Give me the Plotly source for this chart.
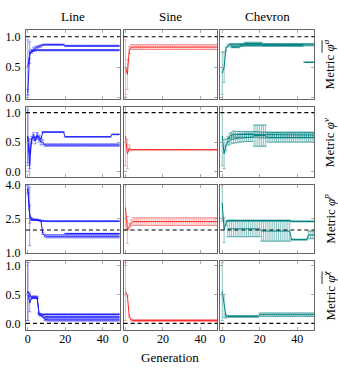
import plotly.graph_objects as go

GEN = [0, 1, 2, 3, 4, 5, 6, 7, 8, 9, 10, 11, 12, 13, 14, 15, 16, 17, 18, 19,
       20, 21, 22, 23, 24, 25, 26, 27, 28, 29, 30, 31, 32, 33, 34, 35, 36, 37, 38, 39,
       40, 41, 42, 43, 44, 45, 46, 47, 48, 49]

COLUMNS = ["Line", "Sine", "Chevron"]
ROW_LABELS = [
    "Metric <i>φ</i><sup><i>a</i></sup>",
    "Metric <i>φ</i><sup><i>v</i></sup>",
    "Metric <i>φ</i><sup><i>p</i></sup>",
    "Metric <i>φ</i><sup><i>χ</i></sup>",
]
ROW_OVERLINE = [True, False, False, True]
REF_VALUES = [1.0, 1.0, 2.0, 0.0]
Y_TICKS = [[0.0, 0.5, 1.0], [0.0, 0.5, 1.0], [1.0, 2.5, 4.0], [0.0, 0.5, 1.0]]
Y_TICK_TEXT = [["0.0", "0.5", "1.0"], ["0.0", "0.5", "1.0"], ["1.0", "2.5", "4.0"], ["0.0", "0.5", "1.0"]]
X_TICKS = [0, 20, 40]
N = None

# ---------------- Row 1 : phi^a ----------------
L1A_Y = [0.08, 0.74, 0.76, 0.77, 0.78, 0.78, 0.78, 0.78, 0.78, 0.78,
         0.78, 0.78, 0.78, 0.78, 0.78, 0.78, 0.78, 0.78, 0.78, 0.78,
         0.78, 0.78, 0.78, 0.78, 0.78, 0.78, 0.78, 0.78, 0.78, 0.78,
         0.78, 0.78, 0.78, 0.78, 0.78, 0.78, 0.78, 0.78, 0.78, 0.78,
         0.78, 0.78, 0.78, 0.78, 0.78, 0.78, 0.78, 0.78, 0.78, 0.78]
L1A_E = [0.05, 0.18, 0.02, 0.01, 0.01, 0.01, 0.01, 0.01, 0.01, 0.01,
         0.01, 0.01, 0.01, 0.01, 0.01, 0.01, 0.01, 0.01, 0.01, 0.01,
         0.01, 0.01, 0.01, 0.01, 0.01, 0.01, 0.01, 0.01, 0.01, 0.01,
         0.01, 0.01, 0.01, 0.01, 0.01, 0.01, 0.01, 0.01, 0.01, 0.01,
         0.01, 0.01, 0.01, 0.01, 0.01, 0.01, 0.01, 0.01, 0.01, 0.01]
L1B_Y = [0.50, 0.70, 0.76, 0.79, 0.81, 0.83, 0.84, 0.85, 0.87, 0.87,
         0.87, 0.87, 0.87, 0.87, 0.87, 0.87, 0.87, 0.87, 0.87, 0.87,
         0.85, 0.85, 0.85, 0.85, 0.85, 0.85, 0.85, 0.85, 0.85, 0.85,
         0.85, 0.85, 0.85, 0.85, 0.85, 0.85, 0.85, 0.85, 0.85, 0.85,
         0.85, 0.85, 0.85, 0.85, 0.85, 0.85, 0.85, 0.85, 0.85, 0.85]
L1B_E = [0.45, 0.06, 0.03, 0.03, 0.03, 0.02, 0.02, 0.02, 0.01, 0.01,
         0.01, 0.01, 0.01, 0.01, 0.01, 0.01, 0.01, 0.01, 0.01, 0.01,
         0.01, 0.01, 0.01, 0.01, 0.01, 0.01, 0.01, 0.01, 0.01, 0.01,
         0.01, 0.01, 0.01, 0.01, 0.01, 0.01, 0.01, 0.01, 0.01, 0.01,
         0.01, 0.01, 0.01, 0.01, 0.01, 0.01, 0.01, 0.01, 0.01, 0.01]
S1_Y = [0.50, 0.38, 0.78, 0.83, 0.83, 0.83, 0.83, 0.83, 0.83, 0.83,
        0.83, 0.83, 0.83, 0.83, 0.83, 0.83, 0.83, 0.83, 0.83, 0.83,
        0.83, 0.83, 0.83, 0.83, 0.83, 0.83, 0.83, 0.83, 0.83, 0.83,
        0.83, 0.83, 0.83, 0.83, 0.83, 0.83, 0.83, 0.83, 0.83, 0.83,
        0.83, 0.83, 0.83, 0.83, 0.83, 0.83, 0.83, 0.83, 0.83, 0.83]
S1_E = [0.45, 0.25, 0.06, 0.04, 0.04, 0.04, 0.04, 0.04, 0.04, 0.04,
        0.04, 0.04, 0.04, 0.04, 0.04, 0.04, 0.04, 0.04, 0.04, 0.04,
        0.04, 0.04, 0.04, 0.04, 0.04, 0.04, 0.04, 0.04, 0.04, 0.04,
        0.04, 0.04, 0.04, 0.04, 0.04, 0.04, 0.04, 0.04, 0.04, 0.04,
        0.04, 0.04, 0.04, 0.04, 0.04, 0.04, 0.04, 0.04, 0.04, 0.04]
C1A_Y = [0.40, 0.50, 0.80, 0.85, 0.87, 0.87, 0.87, 0.87, 0.87, 0.87,
         0.87, 0.87, 0.89, 0.89, 0.89, 0.89, 0.89, 0.89, 0.89, 0.89,
         0.89, 0.89, 0.87, 0.87, 0.87, 0.87, 0.87, 0.87, 0.87, 0.87,
         0.87, 0.87, 0.87, 0.87, 0.87, 0.87, 0.87, 0.87, 0.87, 0.87,
         0.87, 0.87, 0.87, 0.87, 0.87, 0.87, 0.87, 0.87, 0.87, 0.87]
C1A_E = [0.35, 0.25, 0.03, 0.02, 0.02, 0.02, 0.02, 0.02, 0.02, 0.02,
         0.02, 0.02, 0.02, 0.02, 0.02, 0.02, 0.02, 0.02, 0.02, 0.02,
         0.02, 0.02, 0.02, 0.02, 0.02, 0.02, 0.02, 0.02, 0.02, 0.02,
         0.02, 0.02, 0.02, 0.02, 0.02, 0.02, 0.02, 0.02, 0.02, 0.02,
         0.02, 0.02, 0.02, 0.02, 0.02, 0.02, 0.02, 0.02, 0.02, 0.02]
C1B_Y = [N, N, N, N, N, 0.83, 0.83, 0.83, 0.83, 0.83,
         0.86, 0.86, 0.86, 0.86, 0.86, 0.86, 0.86, 0.86, 0.86, 0.86,
         0.86, 0.86, 0.86, 0.86, 0.86, 0.86, 0.86, 0.86, 0.86, 0.86,
         0.86, 0.86, 0.86, 0.86, 0.86, 0.86, 0.86, 0.86, 0.86, 0.86,
         0.86, 0.86, 0.86, 0.86, N, N, N, N, N, N]
C1B_E = [0, 0, 0, 0, 0, 0.01, 0.01, 0.01, 0.01, 0.01,
         0.015, 0.015, 0.015, 0.015, 0.015, 0.015, 0.015, 0.015, 0.015, 0.015,
         0.015, 0.015, 0.015, 0.015, 0.015, 0.015, 0.015, 0.015, 0.015, 0.015,
         0.015, 0.015, 0.015, 0.015, 0.015, 0.015, 0.015, 0.015, 0.015, 0.015,
         0.015, 0.015, 0.015, 0.015, 0, 0, 0, 0, 0, 0]
C1C_Y = [N, N, N, N, N, N, N, N, N, N,
         N, N, N, N, N, N, N, N, N, N,
         N, N, N, N, N, N, N, N, N, N,
         N, N, N, N, N, N, N, N, N, N,
         N, N, N, N, 0.58, 0.58, 0.58, 0.58, 0.58, 0.58]
C1C_E = [0, 0, 0, 0, 0, 0, 0, 0, 0, 0,
         0, 0, 0, 0, 0, 0, 0, 0, 0, 0,
         0, 0, 0, 0, 0, 0, 0, 0, 0, 0,
         0, 0, 0, 0, 0, 0, 0, 0, 0, 0,
         0, 0, 0, 0, 0.005, 0.005, 0.005, 0.005, 0.005, 0.005]

# ---------------- Row 2 : phi^v ----------------
L2A_Y = [0.60, 0.10, 0.55, 0.58, 0.52, 0.60, 0.55, 0.50, 0.50, 0.45,
         0.45, 0.45, 0.45, 0.45, 0.45, 0.45, 0.45, 0.45, 0.45, 0.45,
         0.45, 0.45, 0.45, 0.45, 0.45, 0.45, 0.45, 0.45, 0.45, 0.45,
         0.45, 0.45, 0.45, 0.45, 0.45, 0.45, 0.45, 0.45, 0.45, 0.45,
         0.45, 0.45, 0.45, 0.45, 0.45, 0.45, 0.45, 0.45, 0.45, 0.45]
L2A_E = [0.50, 0.25, 0.05, 0.05, 0.05, 0.05, 0.05, 0.05, 0.04, 0.02,
         0.02, 0.02, 0.02, 0.02, 0.02, 0.02, 0.02, 0.02, 0.02, 0.02,
         0.02, 0.02, 0.02, 0.02, 0.02, 0.02, 0.02, 0.02, 0.02, 0.02,
         0.02, 0.02, 0.02, 0.02, 0.02, 0.02, 0.02, 0.02, 0.02, 0.02,
         0.02, 0.02, 0.02, 0.02, 0.02, 0.02, 0.02, 0.02, 0.02, 0.02]
L2B_Y = [0.60, 0.30, 0.52, 0.62, 0.56, 0.62, 0.58, 0.55, 0.67, 0.67,
         0.67, 0.67, 0.67, 0.67, 0.67, 0.67, 0.67, 0.67, 0.67, 0.67,
         0.59, 0.59, 0.59, 0.59, 0.59, 0.59, 0.59, 0.59, 0.59, 0.59,
         0.59, 0.59, 0.59, 0.59, 0.59, 0.59, 0.59, 0.59, 0.59, 0.59,
         0.59, 0.59, 0.59, 0.59, 0.59, 0.63, 0.63, 0.63, 0.63, 0.63]
L2B_E = [0.45, 0.25, 0.04, 0.04, 0.04, 0.04, 0.04, 0.03, 0.01, 0.01,
         0.005, 0.005, 0.005, 0.005, 0.005, 0.005, 0.005, 0.005, 0.005, 0.005,
         0.005, 0.005, 0.005, 0.005, 0.005, 0.005, 0.005, 0.005, 0.005, 0.005,
         0.005, 0.005, 0.005, 0.005, 0.005, 0.005, 0.005, 0.005, 0.005, 0.005,
         0.005, 0.005, 0.005, 0.005, 0.005, 0.005, 0.005, 0.005, 0.005, 0.005]
S2_Y = [0.60, 0.30, 0.40, 0.37, 0.37, 0.37, 0.37, 0.37, 0.37, 0.37,
        0.37, 0.37, 0.37, 0.37, 0.37, 0.37, 0.37, 0.37, 0.37, 0.37,
        0.37, 0.37, 0.37, 0.37, 0.37, 0.37, 0.37, 0.37, 0.37, 0.37,
        0.37, 0.37, 0.37, 0.37, 0.37, 0.37, 0.37, 0.37, 0.37, 0.37,
        0.37, 0.37, 0.37, 0.37, 0.37, 0.37, 0.37, 0.37, 0.37, 0.37]
S2_E = [0.50, 0.25, 0.05, 0.004, 0.004, 0.004, 0.004, 0.004, 0.004, 0.004,
        0.004, 0.004, 0.004, 0.004, 0.004, 0.004, 0.004, 0.004, 0.004, 0.004,
        0.004, 0.004, 0.004, 0.004, 0.004, 0.004, 0.004, 0.004, 0.004, 0.004,
        0.004, 0.004, 0.004, 0.004, 0.004, 0.004, 0.004, 0.004, 0.004, 0.004,
        0.004, 0.004, 0.004, 0.004, 0.004, 0.004, 0.004, 0.004, 0.004, 0.004]
C2A_Y = [0.60, 0.30, 0.45, 0.50, 0.52, 0.55, 0.55, 0.56, 0.56, 0.57,
         0.57, 0.57, 0.58, 0.58, 0.58, 0.58, 0.58, 0.61, 0.61, 0.61,
         0.61, 0.61, 0.61, 0.61, 0.58, 0.58, 0.58, 0.58, 0.58, 0.58,
         0.58, 0.58, 0.58, 0.58, 0.58, 0.58, 0.58, 0.58, 0.58, 0.58,
         0.58, 0.58, 0.58, 0.58, 0.58, 0.58, 0.58, 0.58, 0.58, 0.58]
C2A_E = [0.50, 0.25, 0.10, 0.06, 0.06, 0.07, 0.07, 0.07, 0.07, 0.07,
         0.07, 0.07, 0.07, 0.07, 0.07, 0.07, 0.07, 0.18, 0.18, 0.18,
         0.18, 0.18, 0.18, 0.18, 0.08, 0.08, 0.08, 0.08, 0.08, 0.08,
         0.08, 0.08, 0.08, 0.08, 0.08, 0.08, 0.08, 0.08, 0.08, 0.08,
         0.08, 0.08, 0.08, 0.08, 0.08, 0.08, 0.08, 0.08, 0.08, 0.08]
C2B_Y = [N, N, N, 0.55, 0.60, 0.62, 0.64, 0.63, 0.63, 0.63,
         0.63, 0.63, 0.63, 0.63, 0.63, 0.63, 0.63, 0.63, 0.63, 0.63,
         0.62, 0.62, 0.62, 0.62, 0.62, 0.62, 0.62, 0.62, 0.62, 0.62,
         0.62, 0.62, 0.62, 0.62, 0.62, 0.62, 0.62, 0.62, 0.62, 0.62,
         0.62, 0.62, 0.62, 0.62, 0.62, 0.62, 0.62, 0.62, 0.62, 0.62]
C2B_E = [0, 0, 0, 0.05, 0.05, 0.05, 0.05, 0.05, 0.05, 0.05,
         0.05, 0.05, 0.05, 0.05, 0.05, 0.05, 0.05, 0.05, 0.05, 0.05,
         0.05, 0.05, 0.05, 0.05, 0.05, 0.05, 0.05, 0.05, 0.05, 0.05,
         0.05, 0.05, 0.05, 0.05, 0.05, 0.05, 0.05, 0.05, 0.05, 0.05,
         0.05, 0.05, 0.05, 0.05, 0.05, 0.05, 0.05, 0.05, 0.05, 0.05]

# ---------------- Row 3 : phi^p ----------------
L3A_Y = [3.90, 2.60, 2.45, 2.45, 2.45, 2.45, 2.43, 2.42, 2.40, 2.39,
         2.39, 2.39, 2.39, 2.39, 2.39, 2.39, 2.39, 2.39, 2.39, 2.39,
         2.39, 2.39, 2.39, 2.39, 2.39, 2.39, 2.39, 2.39, 2.39, 2.39,
         2.39, 2.39, 2.39, 2.39, 2.39, 2.39, 2.39, 2.39, 2.39, 2.39,
         2.39, 2.39, 2.39, 2.39, 2.39, 2.39, 2.39, 2.39, 2.39, 2.39]
L3A_E = [0.10, 1.30, 0.03, 0.02, 0.02, 0.02, 0.02, 0.02, 0.02, 0.02,
         0.02, 0.02, 0.02, 0.02, 0.02, 0.02, 0.02, 0.02, 0.02, 0.02,
         0.02, 0.02, 0.02, 0.02, 0.02, 0.02, 0.02, 0.02, 0.02, 0.02,
         0.02, 0.02, 0.02, 0.02, 0.02, 0.02, 0.02, 0.02, 0.02, 0.02,
         0.02, 0.02, 0.02, 0.02, 0.02, 0.02, 0.02, 0.02, 0.02, 0.02]
L3B_Y = [3.80, 2.70, 2.50, 2.46, 2.45, 2.45, 2.43, 2.40, 1.85, 1.75,
         1.72, 1.72, 1.72, 1.72, 1.72, 1.72, 1.72, 1.72, 1.72, 1.72,
         1.72, 1.72, 1.72, 1.72, 1.72, 1.72, 1.72, 1.72, 1.72, 1.72,
         1.72, 1.72, 1.72, 1.72, 1.72, 1.72, 1.72, 1.72, 1.72, 1.72,
         1.72, 1.72, 1.72, 1.72, 1.72, 1.72, 1.72, 1.72, 1.72, 1.72]
L3B_E = [0.15, 0.40, 0.05, 0.03, 0.03, 0.03, 0.03, 0.03, 0.05, 0.06,
         0.07, 0.07, 0.07, 0.07, 0.07, 0.07, 0.07, 0.07, 0.07, 0.07,
         0.07, 0.07, 0.07, 0.07, 0.07, 0.07, 0.07, 0.07, 0.07, 0.07,
         0.07, 0.07, 0.07, 0.07, 0.07, 0.07, 0.07, 0.07, 0.07, 0.07,
         0.07, 0.07, 0.07, 0.07, 0.07, 0.07, 0.07, 0.07, 0.07, 0.07]
L3C_Y = [N, N, N, N, N, N, N, N, N, N,
         N, N, N, N, N, N, N, N, N, N,
         1.84, 1.84, 1.84, 1.84, 1.84, 1.84, 1.84, 1.84, 1.84, 1.84,
         1.84, 1.84, 1.84, 1.84, 1.84, 1.84, 1.84, 1.84, 1.84, 1.84,
         1.84, 1.84, 1.84, 1.84, 1.84, 1.84, 1.84, 1.84, 1.84, 1.84]
L3C_E = [0, 0, 0, 0, 0, 0, 0, 0, 0, 0,
         0, 0, 0, 0, 0, 0, 0, 0, 0, 0,
         0.01, 0.01, 0.01, 0.01, 0.01, 0.01, 0.01, 0.01, 0.01, 0.01,
         0.01, 0.01, 0.01, 0.01, 0.01, 0.01, 0.01, 0.01, 0.01, 0.01,
         0.01, 0.01, 0.01, 0.01, 0.01, 0.01, 0.01, 0.01, 0.01, 0.01]
S3_Y = [3.00, 2.00, 2.15, 2.30, 2.37, 2.37, 2.37, 2.37, 2.37, 2.37,
        2.37, 2.37, 2.37, 2.37, 2.37, 2.37, 2.37, 2.37, 2.37, 2.37,
        2.37, 2.37, 2.37, 2.37, 2.37, 2.37, 2.37, 2.37, 2.37, 2.37,
        2.37, 2.37, 2.37, 2.37, 2.37, 2.37, 2.37, 2.37, 2.37, 2.37,
        2.37, 2.37, 2.37, 2.37, 2.37, 2.37, 2.37, 2.37, 2.37, 2.37]
S3_E = [1.00, 0.60, 0.15, 0.15, 0.17, 0.17, 0.17, 0.17, 0.17, 0.17,
        0.17, 0.17, 0.17, 0.17, 0.17, 0.17, 0.17, 0.17, 0.17, 0.17,
        0.17, 0.17, 0.17, 0.17, 0.17, 0.17, 0.17, 0.17, 0.17, 0.17,
        0.17, 0.17, 0.17, 0.17, 0.17, 0.17, 0.17, 0.17, 0.17, 0.17,
        0.17, 0.17, 0.17, 0.17, 0.17, 0.17, 0.17, 0.17, 0.17, 0.17]
C3A_Y = [3.20, 2.00, 2.30, 2.42, 2.42, 2.42, 2.42, 2.42, 2.42, 2.42,
         2.42, 2.42, 2.42, 2.42, 2.42, 2.42, 2.42, 2.42, 2.42, 2.42,
         2.42, 2.42, 2.42, 2.42, 2.42, 2.42, 2.42, 2.42, 2.42, 2.42,
         2.42, 2.42, 2.42, 2.42, 2.42, 2.42, 2.42, 2.38, 2.38, 2.38,
         2.38, 2.38, 2.38, 2.38, 2.38, 2.38, 2.38, 2.38, 2.38, 2.38]
C3A_E = [0.80, 0.55, 0.10, 0.02, 0.02, 0.02, 0.02, 0.02, 0.02, 0.02,
         0.02, 0.02, 0.02, 0.02, 0.02, 0.02, 0.02, 0.02, 0.02, 0.02,
         0.02, 0.02, 0.02, 0.02, 0.02, 0.02, 0.02, 0.02, 0.02, 0.02,
         0.02, 0.02, 0.02, 0.02, 0.02, 0.02, 0.02, 0.02, 0.02, 0.02,
         0.02, 0.02, 0.02, 0.02, 0.02, 0.02, 0.02, 0.02, 0.02, 0.02]
C3B_Y = [N, N, N, 2.05, 2.05, 2.05, 2.05, 2.05, 2.05, 2.05,
         2.05, 2.05, 2.05, 2.05, 2.05, 2.05, 2.05, 2.05, 2.05, 2.05,
         2.05, 1.95, 1.95, 1.95, 1.95, 1.95, 1.95, 1.95, 1.95, 1.95,
         1.95, 1.95, 1.95, 1.95, 1.95, 1.95, 1.95, 1.57, 1.57, 1.57,
         1.57, 1.57, 1.57, 1.57, 1.57, 1.57, 1.78, 1.78, 1.78, 1.78]
C3B_E = [0, 0, 0, 0.35, 0.35, 0.35, 0.35, 0.35, 0.35, 0.35,
         0.35, 0.35, 0.35, 0.35, 0.35, 0.35, 0.35, 0.35, 0.35, 0.35,
         0.35, 0.45, 0.45, 0.45, 0.45, 0.45, 0.45, 0.45, 0.45, 0.45,
         0.45, 0.45, 0.45, 0.45, 0.45, 0.45, 0.45, 0.02, 0.02, 0.02,
         0.02, 0.02, 0.02, 0.02, 0.02, 0.02, 0.17, 0.17, 0.17, 0.17]

# ---------------- Row 4 : phi^chi ----------------
L4A_Y = [0.55, 0.50, 0.45, 0.45, 0.45, 0.45, 0.15, 0.14, 0.12, 0.07,
         0.06, 0.06, 0.06, 0.06, 0.06, 0.06, 0.06, 0.06, 0.06, 0.06,
         0.06, 0.06, 0.06, 0.06, 0.06, 0.06, 0.06, 0.06, 0.06, 0.06,
         0.06, 0.06, 0.06, 0.06, 0.06, 0.06, 0.06, 0.06, 0.06, 0.06,
         0.06, 0.06, 0.06, 0.06, 0.06, 0.06, 0.06, 0.06, 0.06, 0.06]
L4A_E = [0.50, 0.04, 0.02, 0.02, 0.02, 0.02, 0.02, 0.02, 0.02, 0.02,
         0.02, 0.02, 0.02, 0.02, 0.02, 0.02, 0.02, 0.02, 0.02, 0.02,
         0.02, 0.02, 0.02, 0.02, 0.02, 0.02, 0.02, 0.02, 0.02, 0.02,
         0.02, 0.02, 0.02, 0.02, 0.02, 0.02, 0.02, 0.02, 0.02, 0.02,
         0.02, 0.02, 0.02, 0.02, 0.02, 0.02, 0.02, 0.02, 0.02, 0.02]
L4B_Y = [0.55, 0.35, 0.44, 0.45, 0.45, 0.44, 0.17, 0.16, 0.15, 0.155,
         0.155, 0.155, 0.155, 0.155, 0.155, 0.155, 0.155, 0.155, 0.155, 0.155,
         0.155, 0.155, 0.155, 0.155, 0.155, 0.155, 0.155, 0.155, 0.155, 0.155,
         0.155, 0.155, 0.155, 0.155, 0.155, 0.155, 0.155, 0.155, 0.155, 0.155,
         0.155, 0.155, 0.155, 0.155, 0.155, 0.155, 0.155, 0.155, 0.155, 0.155]
L4B_E = [0.50, 0.15, 0.02, 0.02, 0.02, 0.02, 0.01, 0.01, 0.01, 0.01,
         0.01, 0.01, 0.01, 0.01, 0.01, 0.01, 0.01, 0.01, 0.01, 0.01,
         0.01, 0.01, 0.01, 0.01, 0.01, 0.01, 0.01, 0.01, 0.01, 0.01,
         0.01, 0.01, 0.01, 0.01, 0.01, 0.01, 0.01, 0.01, 0.01, 0.01,
         0.01, 0.01, 0.01, 0.01, 0.01, 0.01, 0.01, 0.01, 0.01, 0.01]
L4C_Y = [N, N, N, N, N, N, N, N, N, 0.11,
         0.11, 0.11, 0.11, 0.11, 0.11, 0.11, 0.11, 0.11, 0.11, 0.11,
         0.11, 0.11, 0.11, 0.11, 0.11, 0.11, 0.11, 0.11, 0.11, 0.11,
         0.11, 0.11, 0.11, 0.11, 0.11, 0.11, 0.11, 0.11, 0.11, 0.11,
         0.11, 0.11, 0.11, 0.11, 0.11, 0.11, 0.11, 0.11, 0.11, 0.11]
L4C_E = [0, 0, 0, 0, 0, 0, 0, 0, 0, 0.01,
         0.01, 0.01, 0.01, 0.01, 0.01, 0.01, 0.01, 0.01, 0.01, 0.01,
         0.01, 0.01, 0.01, 0.01, 0.01, 0.01, 0.01, 0.01, 0.01, 0.01,
         0.01, 0.01, 0.01, 0.01, 0.01, 0.01, 0.01, 0.01, 0.01, 0.01,
         0.01, 0.01, 0.01, 0.01, 0.01, 0.01, 0.01, 0.01, 0.01, 0.01]
S4_Y = [0.55, 0.48, 0.12, 0.06, 0.05, 0.05, 0.05, 0.05, 0.05, 0.05,
        0.05, 0.05, 0.05, 0.05, 0.05, 0.05, 0.05, 0.05, 0.05, 0.05,
        0.05, 0.05, 0.05, 0.05, 0.05, 0.05, 0.05, 0.05, 0.05, 0.05,
        0.05, 0.05, 0.05, 0.05, 0.05, 0.05, 0.05, 0.05, 0.05, 0.05,
        0.05, 0.05, 0.05, 0.05, 0.05, 0.05, 0.05, 0.05, 0.05, 0.05]
S4_E = [0.50, 0.01, 0.02, 0.015, 0.015, 0.015, 0.015, 0.015, 0.015, 0.015,
        0.015, 0.015, 0.015, 0.015, 0.015, 0.015, 0.015, 0.015, 0.015, 0.015,
        0.015, 0.015, 0.015, 0.015, 0.015, 0.015, 0.015, 0.015, 0.015, 0.015,
        0.015, 0.015, 0.015, 0.015, 0.015, 0.015, 0.015, 0.015, 0.015, 0.015,
        0.015, 0.015, 0.015, 0.015, 0.015, 0.015, 0.015, 0.015, 0.015, 0.015]
C4_Y = [0.55, 0.30, 0.12, 0.12, 0.12, 0.12, 0.12, 0.12, 0.12, 0.12,
        0.12, 0.12, 0.12, 0.12, 0.12, 0.12, 0.12, 0.12, 0.12, 0.12,
        0.15, 0.15, 0.15, 0.15, 0.15, 0.15, 0.15, 0.15, 0.15, 0.15,
        0.15, 0.15, 0.15, 0.15, 0.15, 0.15, 0.15, 0.15, 0.15, 0.15,
        0.15, 0.15, 0.15, 0.15, 0.15, 0.15, 0.15, 0.15, 0.15, 0.15]
C4_E = [0.50, 0.20, 0.03, 0.015, 0.015, 0.015, 0.015, 0.015, 0.015, 0.015,
        0.015, 0.015, 0.015, 0.015, 0.015, 0.015, 0.015, 0.015, 0.015, 0.015,
        0.03, 0.03, 0.03, 0.03, 0.03, 0.03, 0.03, 0.03, 0.03, 0.03,
        0.03, 0.03, 0.03, 0.03, 0.03, 0.03, 0.03, 0.03, 0.03, 0.03,
        0.03, 0.03, 0.03, 0.03, 0.03, 0.03, 0.03, 0.03, 0.03, 0.03]

PANELS = [
    [[(L1A_Y, L1A_E), (L1B_Y, L1B_E)], [(S1_Y, S1_E)], [(C1A_Y, C1A_E), (C1B_Y, C1B_E), (C1C_Y, C1C_E)]],
    [[(L2A_Y, L2A_E), (L2B_Y, L2B_E)], [(S2_Y, S2_E)], [(C2A_Y, C2A_E), (C2B_Y, C2B_E)]],
    [[(L3A_Y, L3A_E), (L3B_Y, L3B_E), (L3C_Y, L3C_E)], [(S3_Y, S3_E)], [(C3A_Y, C3A_E), (C3B_Y, C3B_E)]],
    [[(L4A_Y, L4A_E), (L4B_Y, L4B_E), (L4C_Y, L4C_E)], [(S4_Y, S4_E)], [(C4_Y, C4_E)]],
]

# ---------------- styling / layout ----------------
LINE_COLORS = ["rgb(30,30,255)", "rgb(255,40,40)", "rgb(0,130,130)"]
ERR_COLORS = ["rgba(30,30,255,0.55)", "rgba(255,40,40,0.45)", "rgba(0,130,130,0.6)"]
W, H = 338, 374


def px_x(p):
    return p / W


def px_y(p):
    return 1 - p / H


COL_PX = [(25, 119), (123, 217), (220, 314)]
ROW_PX = [(25, 96), (105, 177), (185, 256), (264, 336)]
Y_RANGES = [[-0.02, 1.11], [-0.09, 1.09], [0.97, 4.02], [-0.12, 1.08]]
X_RANGE = [-1, 49]
FONT = "Liberation Serif"
LABEL_X_PX = 329

fig = go.Figure()
layout = dict(
    width=W, height=H, margin=dict(l=0, r=0, t=0, b=0),
    paper_bgcolor="white", plot_bgcolor="white", showlegend=False,
    font=dict(family=FONT, size=12, color="black"),
)
shapes = []
annotations = []

for r in range(4):
    yd = [px_y(ROW_PX[r][1]), px_y(ROW_PX[r][0])]
    for c in range(3):
        k = r * 3 + c + 1
        xa = "x" if k == 1 else f"x{k}"
        ya = "y" if k == 1 else f"y{k}"
        for (yv, ev) in PANELS[r][c]:
            fig.add_trace(go.Scatter(
                x=GEN, y=yv, mode="lines", xaxis=xa, yaxis=ya,
                line=dict(color=LINE_COLORS[c], width=1),
                error_y=dict(type="data", array=ev, visible=True,
                             color=ERR_COLORS[c], thickness=0.8, width=1.5),
                hoverinfo="skip",
            ))
        layout[f"xaxis{k}" if k > 1 else "xaxis"] = dict(
            domain=[px_x(COL_PX[c][0]), px_x(COL_PX[c][1])], anchor=ya, range=X_RANGE,
            tickvals=X_TICKS, showticklabels=(r == 3), ticklabelstandoff=-3,
            ticks="inside", ticklen=3, tickcolor="#aaaaaa", tickwidth=0.8,
            showline=True, linecolor="#666666", linewidth=1, mirror="ticks",
            showgrid=False, zeroline=False,
            tickfont=dict(family=FONT, size=12, color="black"),
        )
        layout[f"yaxis{k}" if k > 1 else "yaxis"] = dict(
            domain=yd, anchor=xa, range=Y_RANGES[r],
            tickvals=Y_TICKS[r], ticktext=Y_TICK_TEXT[r], showticklabels=(c == 0),
            ticklabelstandoff=2,
            ticks="inside", ticklen=3, tickcolor="#aaaaaa", tickwidth=0.8,
            showline=True, linecolor="#666666", linewidth=1, mirror="ticks",
            showgrid=False, zeroline=False,
            tickfont=dict(family=FONT, size=12, color="black"),
        )
        shapes.append(dict(
            type="line", xref=f"{xa} domain", yref=ya, x0=0, x1=1,
            y0=REF_VALUES[r], y1=REF_VALUES[r],
            line=dict(color="black", width=1.1, dash="4px,3px"), layer="above",
        ))
    yc = (ROW_PX[r][0] + ROW_PX[r][1]) / 2
    annotations.append(dict(
        text=ROW_LABELS[r], xref="paper", yref="paper", x=px_x(LABEL_X_PX), y=px_y(yc),
        showarrow=False, textangle=-90, font=dict(family=FONT, size=13, color="black"),
        xanchor="center", yanchor="middle",
    ))
    if ROW_OVERLINE[r]:
        # overline over the rotated symbol (top end of the rotated label)
        shapes.append(dict(
            type="line", xref="paper", yref="paper",
            x0=px_x(LABEL_X_PX - 7), x1=px_x(LABEL_X_PX - 7),
            y0=px_y(yc - 12), y1=px_y(yc - 25),
            line=dict(color="black", width=0.8),
        ))

for c in range(3):
    annotations.append(dict(
        text=COLUMNS[c], xref="paper", yref="paper",
        x=px_x((COL_PX[c][0] + COL_PX[c][1]) / 2), y=px_y(11),
        showarrow=False, font=dict(family=FONT, size=13, color="black"),
        xanchor="center", yanchor="middle",
    ))
annotations.append(dict(
    text="Generation", xref="paper", yref="paper", x=px_x(169), y=px_y(364),
    showarrow=False, font=dict(family=FONT, size=13, color="black"),
    xanchor="center", yanchor="middle",
))

layout["shapes"] = shapes
layout["annotations"] = annotations
fig.update_layout(**layout)
fig.write_html(
    "out.html",
    config={"displayModeBar": False},
    post_script="document.body.style.margin='0px';document.documentElement.style.overflow='hidden';",
)
